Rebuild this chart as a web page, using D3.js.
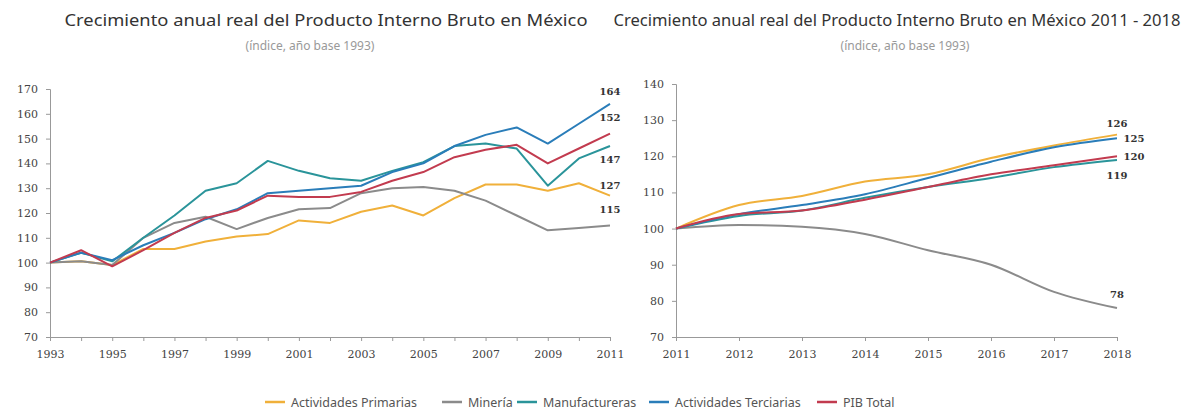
<!DOCTYPE html>
<html>
<head>
<meta charset="utf-8">
<script src="https://cdn.jsdelivr.net/npm/d3@7"></script>
<style>
  body { margin: 0; background: #fff; }
  svg { display: block; font-family: 'Noto Sans', sans-serif; }
</style>
</head>
<body>
<script>
const seriesNames = ['Actividades Primarias', 'Minería', 'Manufactureras', 'Actividades Terciarias', 'PIB Total']
const seriesColors = ['#f0b03a', '#8b8b8b', '#2a949a', '#2a7db9', '#c23b4f']

// 1993 - 2011
const yearsA = d3.range(1993, 2012)
const primariasA = [100, 100.5, 99, 105.5, 105.5, 108.5, 110.5, 111.5, 117, 116, 120.5, 123, 119, 126, 131.5, 131.5, 129, 132, 127]
const mineriaA = [100, 100.5, 99, 110, 116, 118.5, 113.5, 118, 121.5, 122, 128, 130, 130.5, 129, 125, 119, 113, 114, 115]
const manufA = [100, 104, 100.5, 110, 119, 129, 132, 141, 137, 134, 133, 137, 140.5, 147, 148, 146, 131, 142, 147]
const terciariasA = [100, 104, 101, 107, 112, 117.5, 121.5, 128, 129, 130, 131, 136.5, 140, 147, 151.5, 154.5, 148, 156, 164]
const pibA = [100, 105, 98.5, 105, 112, 118, 121, 127, 126.5, 126.5, 128.5, 133, 136.5, 142.5, 145.5, 147.5, 140, 146, 152]
const endLabelsA = ['127', '115', '147', '164', '152']

// 2011 - 2018
const yearsB = d3.range(2011, 2019)
const primariasB = [100, 106.5, 109, 113, 115, 119.5, 123, 126]
const mineriaB = [100, 101, 100.5, 98.5, 94, 90, 82.5, 78]
const manufB = [100, 103.5, 105, 108.5, 111.5, 114, 117, 119]
const terciariasB = [100, 104, 106.5, 109.5, 114, 118.5, 122.5, 125]
const pibB = [100, 104, 105, 108, 111.5, 115, 117.5, 120]
const endLabelsB = ['126', '78', '119', '125', '120']

const yTicksA = d3.range(70, 171, 10)
const yTicksB = d3.range(70, 141, 10)

const W = 1197
const H = 410
const svg = d3.select('body').append('svg').attr('width', W).attr('height', H)

function drawPanel (opt) {
  const x = d3.scaleLinear().domain(d3.extent(opt.years)).range([opt.x0, opt.x1])
  const y = d3.scaleLinear().domain(opt.yDomain).range([opt.y0, opt.y1])
  const g = svg.append('g')

  g.append('text').attr('x', opt.titleX).attr('y', 26).attr('text-anchor', 'middle')
    .attr('font-size', 17).attr('fill', '#333')
    .attr('textLength', opt.titleLen).attr('lengthAdjust', 'spacingAndGlyphs').text(opt.title)
  g.append('text').attr('x', opt.subX).attr('y', 50).attr('text-anchor', 'middle')
    .attr('font-size', 12).attr('fill', '#999').text('(índice, año base 1993)')

  const xAxis = g.append('g').attr('transform', 'translate(0,' + opt.y0 + ')')
    .call(d3.axisBottom(x).tickValues(opt.years).tickSize(4)
      .tickFormat(d => opt.labelEvery === 1 || (d - opt.years[0]) % opt.labelEvery === 0 ? String(d) : ''))
  const yAxis = g.append('g').attr('transform', 'translate(' + opt.x0 + ',0)')
    .call(d3.axisLeft(y).tickValues(opt.yTicks).tickSize(4).tickPadding(8))
  for (const a of [xAxis, yAxis]) {
    a.select('.domain').attr('stroke', '#999')
    a.selectAll('.tick line').attr('stroke', '#999')
    a.selectAll('.tick text').attr('fill', '#444').attr('font-size', 11)
      .attr('font-family', "'DejaVu Serif', serif")
  }
  xAxis.selectAll('.tick text').attr('dy', '1.3em')

  const line = d3.line().x((d, i) => x(opt.years[i])).y(d => y(d)).curve(opt.curve)
  opt.series.forEach((s, k) => {
    g.append('path').datum(s).attr('fill', 'none').attr('stroke', seriesColors[k])
      .attr('stroke-width', 2).attr('stroke-linejoin', 'round').attr('d', line)
  })
  opt.series.forEach((s, k) => {
    const p = opt.labelPos[k]
    g.append('text').attr('x', x(opt.years[opt.years.length - 1]) + p[0])
      .attr('y', y(s[s.length - 1]) + p[1]).attr('text-anchor', 'middle')
      .attr('font-size', 10).attr('font-weight', 'bold').attr('fill', '#333')
      .attr('font-family', "'DejaVu Serif', serif").text(opt.labels[k])
  })
}

drawPanel({
  years: yearsA,
  yDomain: [70, 170],
  yTicks: yTicksA,
  x0: 50,
  x1: 610,
  y0: 337,
  y1: 89,
  labelEvery: 2,
  curve: d3.curveLinear,
  series: [primariasA, mineriaA, manufA, terciariasA, pibA],
  labels: endLabelsA,
  labelPos: [[0, -7], [0, -12], [0, 17], [0, -9], [0, -13]],
  title: 'Crecimiento anual real del Producto Interno Bruto en México',
  titleX: 326,
  titleLen: 523,
  subX: 310
})

drawPanel({
  years: yearsB,
  yDomain: [70, 140],
  yTicks: yTicksB,
  x0: 676,
  x1: 1117,
  y0: 337,
  y1: 84,
  labelEvery: 1,
  curve: d3.curveMonotoneX,
  series: [primariasB, mineriaB, manufB, terciariasB, pibB],
  labels: endLabelsB,
  labelPos: [[0, -8], [0, -10], [0, 19], [17, 4], [17, 4]],
  title: 'Crecimiento anual real del Producto Interno Bruto en México 2011 - 2018',
  titleX: 897,
  titleLen: 567,
  subX: 905
})

// legend
const legend = svg.append('g').attr('transform', 'translate(0,402)')
const legendX = [265, 442, 517, 649, 817]
seriesNames.forEach((n, k) => {
  legend.append('line').attr('x1', legendX[k]).attr('x2', legendX[k] + 20)
    .attr('stroke', seriesColors[k]).attr('stroke-width', 2.5)
  legend.append('text').attr('x', legendX[k] + 26).attr('y', 4.5).attr('font-size', 12.5)
    .attr('fill', '#555').text(n)
})
</script>
</body>
</html>
